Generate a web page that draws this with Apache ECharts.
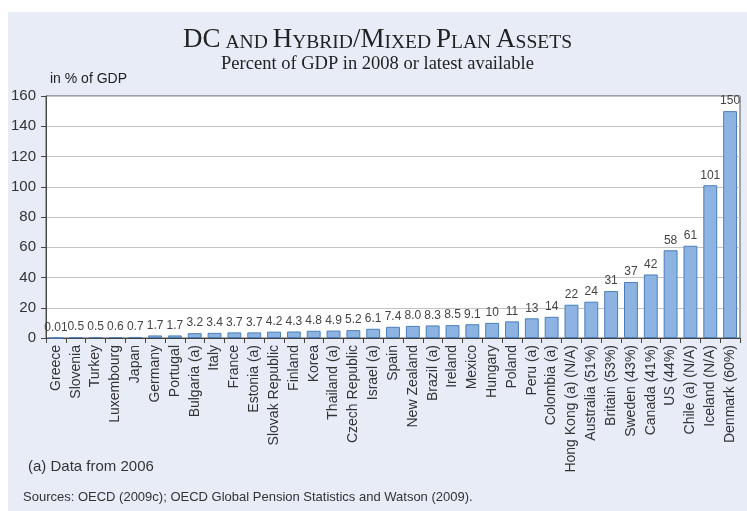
<!DOCTYPE html>
<html><head><meta charset="utf-8">
<script src="https://cdn.jsdelivr.net/npm/echarts@6/dist/echarts.min.js"></script>
<style>
html,body{margin:0;padding:0;background:#fff;}
#wrap{position:relative;width:747px;height:511px;background:#fff;overflow:hidden;}
#chart{position:absolute;left:8px;top:12px;width:739px;height:499px;background:#e7ecf7;}
</style></head>
<body><div id="wrap"><div id="chart"></div></div>
<script>
var categories = ["Greece","Slovenia","Turkey","Luxembourg","Japan","Germany","Portugal","Bulgaria (a)","Italy","France","Estonia (a)","Slovak Republic","Finland","Korea","Thailand (a)","Czech Republic","Israel (a)","Spain","New Zealand","Brazil (a)","Ireland","Mexico","Hungary","Poland","Peru (a)","Colombia (a)","Hong Kong (a) (N/A)","Australia (51%)","Britain (53%)","Sweden (43%)","Canada (41%)","US (44%)","Chile (a) (N/A)","Iceland (N/A)","Denmark (60%)"];
var values = [0.01,0.5,0.5,0.6,0.7,1.7,1.7,3.2,3.4,3.7,3.7,4.2,4.3,4.8,4.9,5.2,6.1,7.4,8.0,8.3,8.5,9.1,10,11,13,14,22,24,31,37,42,58,61,101,150];
var valueLabels = ["0.01","0.5","0.5","0.6","0.7","1.7","1.7","3.2","3.4","3.7","3.7","4.2","4.3","4.8","4.9","5.2","6.1","7.4","8.0","8.3","8.5","9.1","10","11","13","14","22","24","31","37","42","58","61","101","150"];
var yTicks = [0,20,40,60,80,100,120,140,160];

var chart = echarts.init(document.getElementById('chart'), null, {renderer:'canvas'});
var serif = 'Liberation Serif';
var sans = 'Liberation Sans';
chart.setOption({
  animation:false,
  backgroundColor:'transparent',
  title:{
    left:'center', top:8,
    text:'{b|DC} {s|AND} {b|H}{s|YBRID}{b|/M}{s|IXED} {b|P}{s|LAN} {b|A}{s|SSETS}',
    textStyle:{fontWeight:'normal',rich:{
      b:{fontFamily:serif,fontSize:27,fontWeight:'normal',color:'#222',verticalAlign:'bottom',lineHeight:28},
      s:{fontFamily:serif,fontSize:19.5,fontWeight:'normal',color:'#222',verticalAlign:'bottom',lineHeight:28}
    }},
    subtext:'Percent of GDP in 2008 or latest available',
    subtextStyle:{fontFamily:serif,fontSize:18.5,color:'#222'},
    itemGap:3
  },
  grid:{left:37,right:7,top:84,bottom:173,show:true,backgroundColor:'#fff',borderColor:'#555',borderWidth:1},
  xAxis:{
    type:'category', data:categories,
    axisLine:{lineStyle:{color:'#444'}},
    axisTick:{show:true,length:5,lineStyle:{color:'#444'}},
    axisLabel:{rotate:90,fontFamily:sans,fontSize:14,color:'#333',margin:7,interval:0}
  },
  yAxis:{
    type:'value', min:yTicks[0], max:yTicks[yTicks.length-1], interval:20,
    axisLine:{show:true,lineStyle:{color:'#444'}},
    axisTick:{show:true,length:5,lineStyle:{color:'#444'}},
    axisLabel:{fontFamily:sans,fontSize:15,color:'#333',margin:10},
    splitLine:{lineStyle:{color:'#c4c4c4',width:1}}
  },
  series:[{
    type:'bar', data:values, barCategoryGap:'30%',
    itemStyle:{color:'#8db3e2',borderColor:'#4a7ebb',borderWidth:1},
    label:{show:true,position:'top',distance:4,fontFamily:sans,fontSize:12,color:'#444',
      formatter:function(p){return valueLabels[p.dataIndex];}}
  }],
  graphic:[
    {type:'text',left:42,top:60,style:{text:'in % of GDP',font:'14px "Liberation Sans"',fill:'#222'}},
    {type:'text',left:20,top:447,style:{text:'(a) Data from 2006',font:'15px "Liberation Sans"',fill:'#333'}},
    {type:'text',left:15,top:479,style:{text:'Sources: OECD (2009c); OECD Global Pension Statistics and Watson (2009).',font:'13px "Liberation Sans"',fill:'#333'}}
  ]
});
</script></body></html>
